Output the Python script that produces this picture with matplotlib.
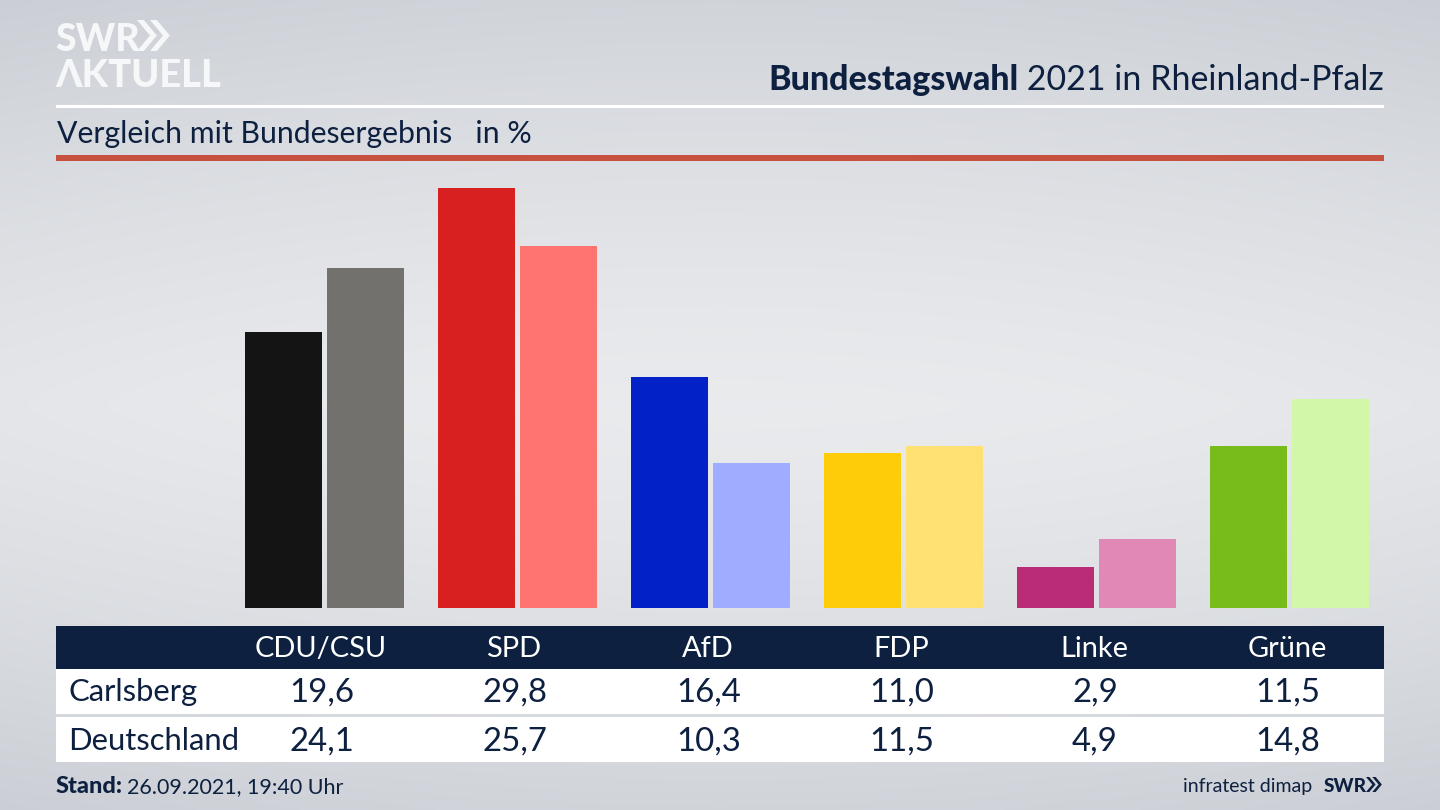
import matplotlib

matplotlib.use("Agg", force=True)
from matplotlib import pyplot as plt
from matplotlib.patches import Polygon, Rectangle
import numpy as np

PARTIES = ["CDU/CSU", "SPD", "AfD", "FDP", "Linke", "Grüne"]
CARLSBERG = [19.6, 29.8, 16.4, 11.0, 2.9, 11.5]
DEUTSCHLAND = [24.1, 25.7, 10.3, 11.5, 4.9, 14.8]
COLORS_DARK = ["#141414", "#d7201f", "#0222c8", "#ffcc0a", "#bb2c76", "#78bc1c"]
COLORS_LIGHT = ["#72716e", "#ff7370", "#9eadff", "#ffe072", "#e089b7", "#d3f7a8"]

NAVY = "#0d203f"
FONT = "Lato"

fig = plt.figure(figsize=(14.4, 8.1), dpi=100)

# page in pixel coordinates, y pointing down
ax_bg = fig.add_axes([0, 0, 1, 1])
ax_bg.set_xlim(0, 1440)
ax_bg.set_ylim(810, 0)
ax_bg.axis("off")

yy, xx = np.mgrid[0:1:162j, 0:1:288j]
shade = np.clip(np.abs(yy - 0.5) * 2, 0, 1) ** 1.3 * 0.8 + np.abs(xx - 0.5) ** 2 * 0.7
shade = np.clip(shade, 0, 1)
top = np.array([0.915, 0.92, 0.93])
low = np.array([0.795, 0.81, 0.835])
bg = top[None, None, :] + (low - top)[None, None, :] * shade[:, :, None]
ax_bg.imshow(bg, extent=(0, 1440, 810, 0), aspect="auto", interpolation="bilinear", zorder=0)


def chevrons(ax, x, y, h, color, n=2):
    w = h * 0.42
    t = h * 0.22
    for i in range(n):
        x0 = x + i * h * 0.42
        pts = [(x0, y), (x0 + t, y), (x0 + t + w, y + h / 2), (x0 + t, y + h), (x0, y + h), (x0 + w, y + h / 2)]
        ax.add_patch(Polygon(pts, closed=True, color=color, lw=0, zorder=3))


def txt(x, y, s, px, color=NAVY, ha="left", weight="normal", **kw):
    return ax_bg.text(x, y, s, fontsize=px * 0.72, color=color, ha=ha, va="baseline",
                      family=FONT, fontweight=weight, zorder=4, **kw)


# logo
txt(55, 51, "SWR", 37.5, color="#f6f7f8", weight="black")
chevrons(ax_bg, 137, 20, 31, "#f6f7f8")
txt(55, 87, "ΛKTUELL", 38, color="#f6f7f8", weight="black")

# heading, regular part placed first so the bold part can sit left of it
part = txt(1384, 90, " 2021 in Rheinland-Pfalz", 34, ha="right")
fig.canvas.draw()
left = part.get_window_extent().x0
txt(left, 90, "Bundestagswahl", 34, ha="right", weight="black")
ax_bg.add_patch(Rectangle((56, 104.5), 1328, 3, color="white", lw=0, zorder=2))
txt(57, 143, "Vergleich mit Bundesergebnis   in %", 30.3)
ax_bg.add_patch(Rectangle((56, 155), 1328, 5.5, color="#c7513f", lw=0, zorder=2))

# table
centers = [321, 514, 708, 901, 1094, 1287]
ax_bg.add_patch(Rectangle((56, 625.5), 1328, 43, color=NAVY, lw=0, zorder=2))
ax_bg.add_patch(Rectangle((56, 668.5), 1328, 45, color="white", lw=0, zorder=2))
ax_bg.add_patch(Rectangle((56, 717), 1328, 45, color="white", lw=0, zorder=2))
for cx, name, a, b in zip(centers, PARTIES, CARLSBERG, DEUTSCHLAND):
    txt(cx, 657, name, 29, color="white", ha="center")
    txt(cx + 1, 702, f"{a:.1f}".replace(".", ","), 33, ha="center")
    txt(cx + 1, 751, f"{b:.1f}".replace(".", ","), 33, ha="center")
txt(68.5, 701, "Carlsberg", 31)
txt(68.5, 750, "Deutschland", 31)

# footer
stand = txt(56, 793, "Stand:", 23.5, weight="black")
fig.canvas.draw()
txt(stand.get_window_extent().x1 + 4, 793, "26.09.2021, 19:40 Uhr", 21.5)
txt(1312, 792, "infratest dimap", 19.5, ha="right")
txt(1324, 792, "SWR", 19, weight="black")
chevrons(ax_bg, 1366, 777, 15, NAVY)

# bars, one x unit = one party group = 193 px, one y unit = 14.1 px
ax = fig.add_axes([56 / 1440, (810 - 608) / 810, 1328 / 1440, 442 / 810], facecolor="none")
ax.set_xlim((56 - 324.5) / 193, (1384 - 324.5) / 193)
ax.set_ylim(0, 442 / 14.1)
ax.axis("off")
pos = np.arange(len(PARTIES))
ax.bar(pos - 0.2124, CARLSBERG, width=0.399, color=COLORS_DARK)
ax.bar(pos + 0.2124, DEUTSCHLAND, width=0.399, color=COLORS_LIGHT)

fig.savefig("out.png", dpi=100)
